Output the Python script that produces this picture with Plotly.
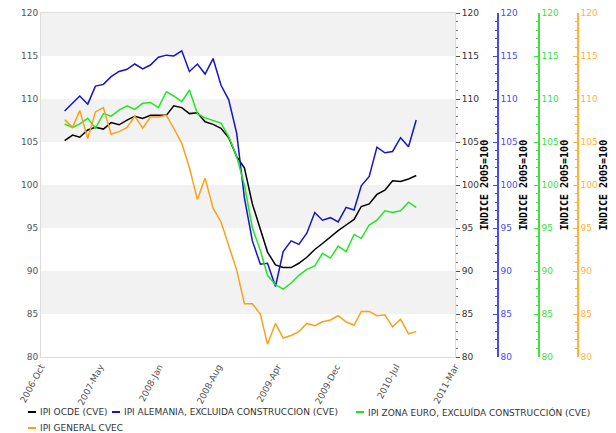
import plotly.graph_objects as go
import pandas as pd

# monthly observations, Jan 2007 .. Oct 2010
months = pd.date_range("2007-01-01", periods=46, freq="MS")

ipi_ocde = [105.15, 105.8, 105.55, 106.4, 106.7, 106.5, 107.25, 107.0, 107.55, 108.0,
            107.75, 108.1, 108.1, 108.1, 109.2, 109.0, 108.3, 108.4, 107.35, 107.05,
            106.6, 105.5, 103.3, 102.0, 97.8, 94.8, 92.2, 90.7, 90.4, 90.4,
            90.9, 91.6, 92.5, 93.2, 94.0, 94.7, 95.35, 96.0, 97.5, 97.8,
            98.9, 99.4, 100.5, 100.4, 100.7, 101.1]

ipi_alemania = [108.6, 109.5, 110.35, 109.4, 111.5, 111.7, 112.6, 113.2, 113.45, 114.07,
                113.5, 113.95, 114.85, 115.1, 115.0, 115.6, 113.2, 114.07, 112.9, 114.7,
                111.6, 109.9, 106.0, 98.5, 93.5, 90.8, 90.9, 88.2, 92.25, 93.5,
                93.1, 94.4, 96.8, 95.9, 96.2, 95.7, 97.4, 97.1, 99.9, 101.0,
                104.4, 103.75, 103.9, 105.5, 104.45, 107.55]

ipi_zona_euro = [107.1, 106.7, 107.1, 107.75, 106.6, 108.3, 108.0, 108.7, 109.2, 108.8,
                 109.5, 109.6, 109.0, 110.85, 110.35, 109.7, 111.05, 108.3, 107.8, 107.5,
                 107.2, 105.6, 103.3, 100.0, 95.0, 92.4, 89.5, 88.4, 87.9, 88.6,
                 89.5, 90.2, 90.6, 92.05, 91.5, 92.9, 92.25, 94.25, 93.8, 95.35,
                 95.9, 97.0, 96.8, 97.0, 98.0, 97.4]

ipi_general = [107.6, 106.7, 108.65, 105.4, 108.5, 109.0, 105.9, 106.2, 106.7, 108.0,
               106.6, 107.9, 107.9, 108.1, 106.6, 104.85, 102.0, 98.3, 100.8, 97.3,
               95.7, 92.8, 90.1, 86.2, 86.2, 85.0, 81.5, 83.9, 82.2, 82.5,
               82.95, 83.9, 83.65, 84.1, 84.3, 84.8, 84.1, 83.7, 85.3, 85.3,
               84.8, 84.9, 83.5, 84.4, 82.7, 82.95]

series_names = ["IPI OCDE (CVE)",
                "IPI ALEMANIA, EXCLUIDA CONSTRUCCION (CVE)",
                "IPI ZONA EURO, EXCLUÍDA CONSTRUCCIÓN (CVE)",
                "IPI GENERAL CVEC"]

x_tick_labels = ["2006-Oct", "2007-May", "2008-Jan", "2008-Aug",
                 "2009-Apr", "2009-Dec", "2010-Jul", "2011-Mar"]
x_start, x_end = pd.Timestamp("2006-10-01"), pd.Timestamp("2011-03-01")
y_min, y_max, y_step = 80, 120, 5
y_title = "<b>INDICE 2005=100</b>"

# evenly divided time ticks
n = len(x_tick_labels) - 1
x_tick_vals = [x_start + (x_end - x_start) * k / n for k in range(n + 1)]

line_colors = ["#000000", "#1414c8", "#22e622", "#f8a21c"]
axis_colors = ["#333333", "#4a4aee", "#40e040", "#ffb23a"]

# page has an 8px body margin: work in page pixels, convert to figure pixels
OFF = 8
W, H = 616 - OFF, 433 - OFF
plot_l, plot_r, plot_t, plot_b = 41, 455, 13, 357      # page pixels
paper_r = 606
L, T = plot_l - OFF, plot_t - OFF
B = H - (plot_b - OFF)
R = W - (paper_r - OFF)
pw = W - L - R
ph = H - T - B
dom_end = (plot_r - plot_l) / pw

def px_x(px):
    return (px - OFF - L) / pw

def px_y(py):
    return (H - B - (py - OFF)) / ph

fig = go.Figure()
for name, vals, col, ax in zip(series_names,
                               [ipi_ocde, ipi_alemania, ipi_zona_euro, ipi_general],
                               line_colors, ["y2", "y3", "y4", "y5"]):
    fig.add_trace(go.Scatter(x=months, y=vals, name=name, mode="lines",
                             line=dict(color=col, width=1.5), yaxis=ax,
                             showlegend=False))

# alternating bands
shapes = []
for lo in range(y_min + y_step, y_max, 2 * y_step):
    shapes.append(dict(type="rect", xref="x domain", yref="y", x0=0, x1=1,
                       y0=lo, y1=lo + y_step, fillcolor="#f2f2f2",
                       line=dict(width=0), layer="below"))

# legend (compact, as in the original)
legend_slots = [(28, 412), (112, 412), (356, 412), (28, 428)]
annotations = []
for name, col, (sx, sy) in zip(series_names, line_colors, legend_slots):
    shapes.append(dict(type="line", xref="paper", yref="paper",
                       x0=px_x(sx), x1=px_x(sx + 8), y0=px_y(sy), y1=px_y(sy),
                       line=dict(color=col, width=2)))
    annotations.append(dict(text=name, xref="paper", yref="paper",
                            x=px_x(sx + 10), y=px_y(sy), xanchor="left", yanchor="middle",
                            showarrow=False,
                            font=dict(family="DejaVu Sans", size=9, color="#333333")))

common = dict(range=[y_min, y_max], dtick=y_step, showgrid=False, zeroline=False,
              automargin=False, tickfont=dict(family="DejaVu Sans", size=9))
title_font = dict(family="DejaVu Sans Mono", size=10, color="#000000")

def right_axis(pos_px, col):
    return dict(**common, overlaying="y", side="right", anchor="free",
                position=px_x(pos_px),
                showline=True, linecolor=col, linewidth=1.5,
                ticks="inside", ticklen=4, tickcolor=col,
                minor=dict(dtick=1, ticks="inside", ticklen=2, tickcolor=col),
                title=dict(text=y_title, font=title_font, standoff=2))

fig.update_layout(
    width=W, height=H,
    margin=dict(l=L, r=R, t=T, b=B, autoexpand=False),
    plot_bgcolor="white", paper_bgcolor="white",
    shapes=shapes, annotations=annotations,
    showlegend=False,
    xaxis=dict(domain=[0, dom_end], type="date", range=[x_start, x_end],
               tickmode="array", tickvals=x_tick_vals, ticktext=x_tick_labels,
               tickangle=-62, tickfont=dict(family="DejaVu Sans", size=9, color="#555555"),
               showgrid=False, showline=True, linecolor="#dddddd", mirror=True,
               zeroline=False, ticks="", automargin=False),
    yaxis=dict(**common, side="left", anchor="x", ticks="", showline=True,
               linecolor="#dddddd", mirror=True),
    yaxis2=dict(**common, overlaying="y", side="right", anchor="x",
                ticks="outside", ticklen=4, tickcolor="#555555",
                minor=dict(dtick=1, ticks="outside", ticklen=2, tickcolor="#777777"),
                title=dict(text=y_title, font=title_font, standoff=2)),
    yaxis3=right_axis(498, axis_colors[1]),
    yaxis4=right_axis(539, axis_colors[2]),
    yaxis5=right_axis(578, axis_colors[3]),
)
fig.layout.yaxis.tickfont.color = "#555555"
fig.layout.yaxis2.tickfont.color = axis_colors[0]
fig.layout.yaxis3.tickfont.color = axis_colors[1]
fig.layout.yaxis4.tickfont.color = axis_colors[2]
fig.layout.yaxis5.tickfont.color = axis_colors[3]

fig.write_html("out.html")
